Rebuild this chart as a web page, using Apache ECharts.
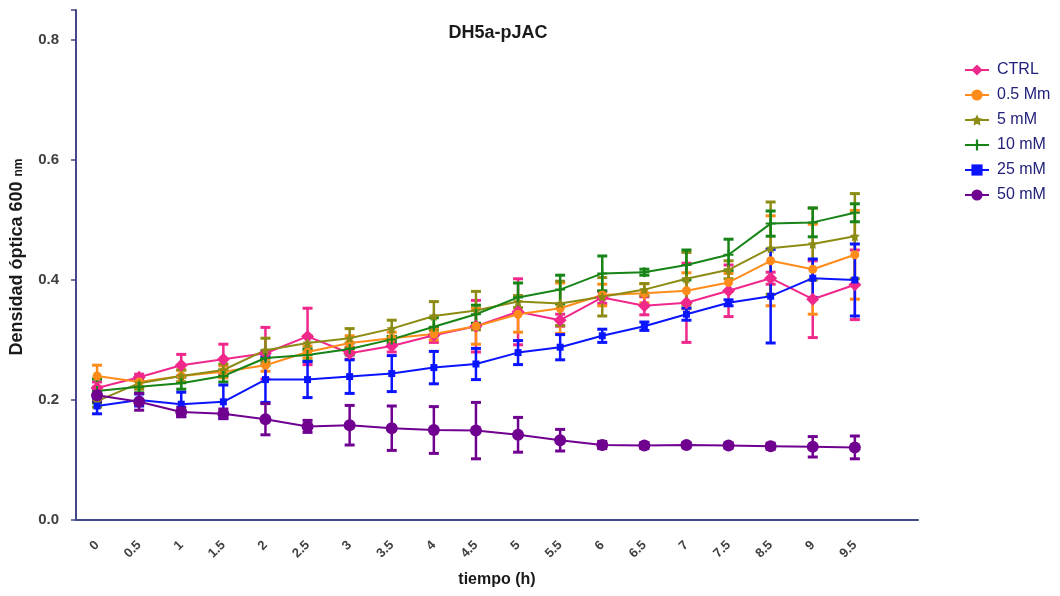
<!DOCTYPE html>
<html>
<head>
<meta charset="utf-8">
<script src="https://cdn.jsdelivr.net/npm/echarts@6/dist/echarts.min.js"></script>
<style>html,body{margin:0;padding:0;background:#fff}#c{width:1060px;height:596px}</style>
</head>
<body>
<div id="c"></div>
<script>
var categories = ['0','0.5','1','1.5','2','2.5','3','3.5','4','4.5','5','5.5','6','6.5','7','7.5','8.5','9','9.5',''];
var seriesNames = ['CTRL','0.5 Mm','5 mM','10 mM','25 mM','50 mM'];
var ctrl    = [0.220,0.238,0.258,0.268,0.278,0.306,0.278,0.290,0.308,0.323,0.347,0.333,0.371,0.357,0.362,0.382,0.403,0.368,0.392];
var ctrlErr = [0.010,0.005,0.018,0.025,0.043,0.047,0.010,0.010,0.012,0.043,0.055,0.010,0.010,0.015,0.066,0.043,0.010,0.064,0.058];
var m05     = [0.240,0.230,0.240,0.247,0.258,0.280,0.295,0.303,0.310,0.323,0.343,0.353,0.375,0.378,0.382,0.396,0.432,0.418,0.442];
var m05Err  = [0.018,0.008,0.010,0.010,0.010,0.010,0.012,0.010,0.010,0.030,0.030,0.042,0.018,0.016,0.030,0.015,0.075,0.075,0.074];
var m5      = [0.198,0.228,0.240,0.250,0.283,0.295,0.303,0.319,0.340,0.349,0.364,0.361,0.372,0.384,0.402,0.417,0.453,0.460,0.473];
var m5Err   = [0.010,0.010,0.010,0.010,0.020,0.012,0.016,0.014,0.024,0.032,0.010,0.037,0.032,0.010,0.044,0.015,0.077,0.060,0.071];
var m10     = [0.215,0.222,0.228,0.240,0.270,0.275,0.285,0.301,0.322,0.343,0.371,0.384,0.411,0.413,0.425,0.442,0.494,0.496,0.512];
var m10Err  = [0.020,0.010,0.010,0.010,0.012,0.010,0.010,0.005,0.015,0.015,0.024,0.024,0.029,0.005,0.025,0.026,0.021,0.024,0.015];
var m25     = [0.190,0.200,0.193,0.197,0.234,0.234,0.239,0.244,0.254,0.260,0.279,0.288,0.307,0.323,0.343,0.362,0.373,0.403,0.400];
var m25Err  = [0.013,0.010,0.020,0.028,0.038,0.030,0.028,0.030,0.027,0.026,0.020,0.021,0.011,0.007,0.010,0.005,0.078,0.032,0.060];
var m50     = [0.208,0.197,0.180,0.177,0.168,0.156,0.158,0.153,0.150,0.149,0.142,0.133,0.125,0.124,0.125,0.124,0.123,0.122,0.121];
var m50Err  = [0.010,0.014,0.008,0.008,0.026,0.010,0.033,0.037,0.039,0.047,0.029,0.018,0.006,0.005,0.004,0.004,0.005,0.017,0.019];
var yTicks = [0, 0.2, 0.4, 0.6, 0.8];

var colors = ['#f0288c','#ff8c1a','#8c8c14','#168416','#0a14ff','#700090'];
var starPath = 'path://M0,-10 L2.9,-4 9.5,-3.1 4.7,1.5 5.9,8.1 0,5 -5.9,8.1 -4.7,1.5 -9.5,-3.1 -2.9,-4Z';
var plusPath = 'path://M-2,-10 L2,-10 2,-2 10,-2 10,2 2,2 2,10 -2,10 -2,2 -10,2 -10,-2 -2,-2Z';
var symbols = ['diamond','circle',starPath,plusPath,'rect','circle'];
var symSizes = [13,9,10,10,7,12];
var means = [ctrl,m05,m5,m10,m25,m50];
var errs = [ctrlErr,m05Err,m5Err,m10Err,m25Err,m50Err];
var FONT = 'Liberation Sans, Arial, sans-serif';

var series = [];
means.forEach(function(vals, k){
  var ed = vals.map(function(v,i){ return [i, v, errs[k][i]]; });
  series.push({
    name: seriesNames[k] + ' err', type: 'custom', z: 2,
    data: ed, encode: {x:0, y:1},
    renderItem: function(params, api){
      var x = api.value(0), y = api.value(1), e = api.value(2);
      var top = api.coord([x, y + e]);
      var bot = api.coord([x, y - e]);
      var c = colors[k];
      var w = 5;
      return {type:'group', children:[
        {type:'line', shape:{x1:top[0], y1:top[1], x2:bot[0], y2:bot[1]}, style: {stroke:c, lineWidth:2.5}},
        {type:'line', shape:{x1:top[0]-w, y1:top[1], x2:top[0]+w, y2:top[1]}, style: {stroke:c, lineWidth:3}},
        {type:'line', shape:{x1:bot[0]-w, y1:bot[1], x2:bot[0]+w, y2:bot[1]}, style: {stroke:c, lineWidth:3}}
      ]};
    },
    silent: true
  });
});
means.forEach(function(vals, k){
  series.push({
    name: seriesNames[k], type: 'line', z: 3,
    data: vals,
    symbol: symbols[k], symbolSize: symSizes[k],
    lineStyle: {color: colors[k], width: 2},
    itemStyle: {color: colors[k]},
    animation: false
  });
});

var chart = echarts.init(document.getElementById('c'));
chart.setOption({
  animation: false,
  color: colors,
  title: {
    text: 'DH5a-pJAC', left: 493, top: 19, textAlign: 'center',
    textStyle: {fontFamily: FONT, fontWeight: 'bold', fontSize: 18, color: '#1a1a1a'}
  },
  legend: {
    data: seriesNames, orient: 'vertical', left: 959, top: 57,
    itemWidth: 24, itemHeight: 14, itemGap: 9,
    textStyle: {fontFamily: FONT, fontSize: 16, lineHeight: 16, color: '#22227a', padding: [0,0,0,3]}
  },
  grid: {left: 76, right: 142, top: 10, bottom: 76},
  xAxis: {
    type: 'category', data: categories, boundaryGap: true,
    name: 'tiempo (h)', nameLocation: 'middle', nameGap: 52,
    nameTextStyle: {fontFamily: FONT, fontWeight: 'bold', fontSize: 16, color: '#1a1a1a'},
    axisLine: {lineStyle: {color: '#44478a', width: 2}},
    axisTick: {alignWithLabel: true, length: 5, lineStyle: {color: '#44478a', width: 1.5}},
    axisLabel: {rotate: 45, margin: 23, fontFamily: FONT, fontWeight: 'bold', fontSize: 13, color: '#404040', interval: 0},
    splitLine: {show: false}
  },
  yAxis: {
    type: 'value', min: 0, max: 0.85, interval: 0.2,
    name: '{a|Densidad óptica 600 }{b|nm}', nameLocation: 'middle', nameGap: 50, nameRotate: 90,
    nameTextStyle: {padding: [0,0,0,16], rich: {
      a: {fontFamily: FONT, fontWeight: 'bold', fontSize: 18, color: '#1a1a1a'},
      b: {fontFamily: FONT, fontWeight: 'bold', fontSize: 12, color: '#1a1a1a', padding: [4,0,0,0]}
    }},
    axisLine: {show: true, lineStyle: {color: '#44478a', width: 2}},
    axisTick: {show: true, length: 5, lineStyle: {color: '#44478a', width: 1.5}},
    axisLabel: {
      margin: 17, fontFamily: FONT, fontWeight: 'bold', fontSize: 15, color: '#404040',
      formatter: function(v){ return yTicks.indexOf(Math.round(v*10)/10) >= 0 ? v.toFixed(1) : ''; }
    },
    splitLine: {show: false}
  },
  series: series
});
</script>
</body>
</html>
